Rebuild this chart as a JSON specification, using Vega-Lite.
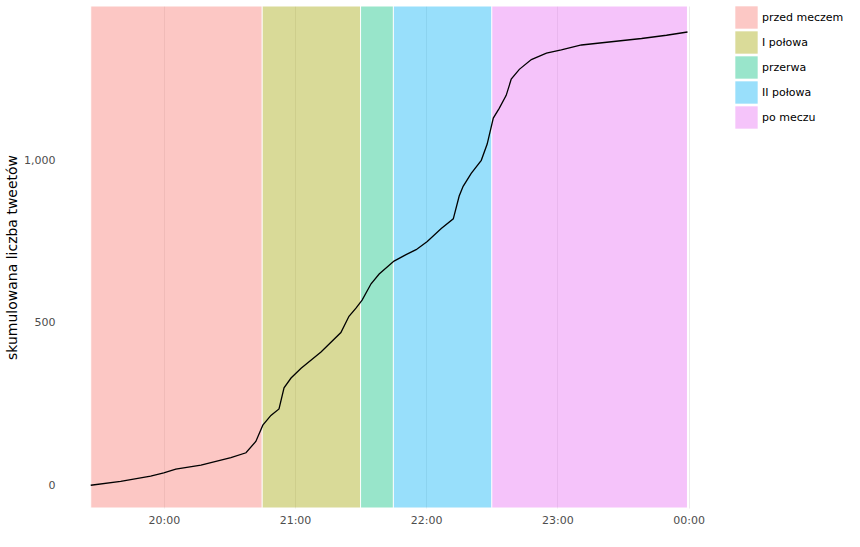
{
"$schema":"https://vega.github.io/schema/vega-lite/v6.json",
"width":656,"height":502,
"padding":{"left":5,"top":5,"right":5,"bottom":5},
"config":{"view":{"stroke":null},"font":"DejaVu Sans","axis":{"gridColor":"#ebebeb","domain":false,"ticks":false,"labelColor":"#4d4d4d","labelFontSize":11,"titleFontWeight":"normal","titleFontSize":14,"titleColor":"#000"},"legend":{"labelFontSize":11,"symbolSize":500,"symbolType":"square","symbolStrokeWidth":0}},
"datasets":{
"bands":[
{"faza":"przed meczem","start":"2014-06-12T19:26:36","end":"2014-06-12T20:45:00"},
{"faza":"I połowa","start":"2014-06-12T20:45:00","end":"2014-06-12T21:30:00"},
{"faza":"przerwa","start":"2014-06-12T21:30:00","end":"2014-06-12T21:45:00"},
{"faza":"II połowa","start":"2014-06-12T21:45:00","end":"2014-06-12T22:30:00"},
{"faza":"po meczu","start":"2014-06-12T22:30:00","end":"2014-06-12T23:59:30"}],
"line":[
{"t":"2014-06-12T19:26:36","n":0},{"t":"2014-06-12T19:40:18","n":12},{"t":"2014-06-12T19:54:00","n":28},{"t":"2014-06-12T20:00:00","n":38},{"t":"2014-06-12T20:05:30","n":50},{"t":"2014-06-12T20:17:00","n":62},{"t":"2014-06-12T20:30:42","n":85},{"t":"2014-06-12T20:37:36","n":100},{"t":"2014-06-12T20:42:06","n":135},{"t":"2014-06-12T20:45:18","n":185},{"t":"2014-06-12T20:49:00","n":215},{"t":"2014-06-12T20:52:42","n":235},{"t":"2014-06-12T20:55:00","n":300},{"t":"2014-06-12T20:58:12","n":330},{"t":"2014-06-12T21:02:48","n":360},{"t":"2014-06-12T21:11:54","n":410},{"t":"2014-06-12T21:21:00","n":470},{"t":"2014-06-12T21:24:42","n":520},{"t":"2014-06-12T21:27:54","n":545},{"t":"2014-06-12T21:30:42","n":570},{"t":"2014-06-12T21:34:48","n":620},{"t":"2014-06-12T21:38:30","n":650},{"t":"2014-06-12T21:45:18","n":690},{"t":"2014-06-12T21:50:48","n":710},{"t":"2014-06-12T21:55:24","n":725},{"t":"2014-06-12T22:00:30","n":750},{"t":"2014-06-12T22:06:54","n":790},{"t":"2014-06-12T22:12:24","n":820},{"t":"2014-06-12T22:15:06","n":890},{"t":"2014-06-12T22:16:54","n":920},{"t":"2014-06-12T22:20:36","n":960},{"t":"2014-06-12T22:25:12","n":1000},{"t":"2014-06-12T22:27:54","n":1050},{"t":"2014-06-12T22:30:42","n":1130},{"t":"2014-06-12T22:33:24","n":1160},{"t":"2014-06-12T22:36:36","n":1200},{"t":"2014-06-12T22:38:54","n":1250},{"t":"2014-06-12T22:42:36","n":1280},{"t":"2014-06-12T22:48:06","n":1310},{"t":"2014-06-12T22:55:00","n":1330},{"t":"2014-06-12T23:01:48","n":1340},{"t":"2014-06-12T23:11:00","n":1355},{"t":"2014-06-12T23:24:42","n":1365},{"t":"2014-06-12T23:38:30","n":1375},{"t":"2014-06-12T23:49:54","n":1385},{"t":"2014-06-12T23:59:30","n":1395}]
},
"layer":[
{"data":{"name":"bands"},"mark":{"type":"rect","opacity":0.4,"stroke":"white","strokeWidth":1,"strokeOpacity":1},
"encoding":{
"x":{"field":"start","type":"temporal","scale":{"domain":[{"year":2014,"month":6,"date":12,"hours":19,"minutes":13},{"year":2014,"month":6,"date":13,"hours":0,"minutes":13}]},"axis":{"format":"%H:%M","title":null,"tickCount":5,"labelPadding":6}},
"x2":{"field":"end"},
"y":{"datum":-70,"type":"quantitative"},"y2":{"datum":1475},
"color":{"field":"faza","type":"nominal","title":null,"sort":["przed meczem","I połowa","przerwa","II połowa","po meczu"],"scale":{"domain":["przed meczem","I połowa","przerwa","II połowa","po meczu"],"range":["#F8766D","#A3A500","#00BF7D","#00B0F6","#E76BF3"]},"legend":{"symbolOpacity":0.4}}}},
{"data":{"name":"line"},"mark":{"type":"line","color":"black","strokeWidth":1.3},
"encoding":{"x":{"field":"t","type":"temporal"},
"y":{"field":"n","type":"quantitative","scale":{"domain":[-70,1475],"nice":false},"axis":{"title":"skumulowana liczba tweetów","values":[0,500,1000],"labelPadding":6}}}}
]
}
